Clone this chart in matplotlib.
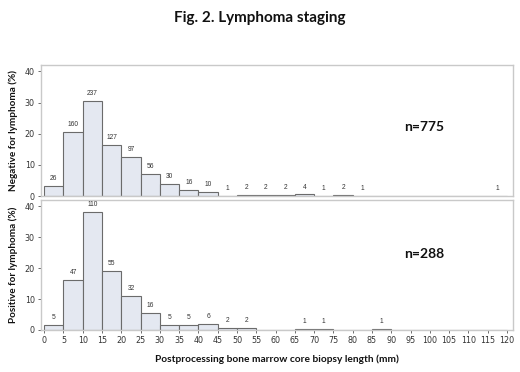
import numpy as np
import matplotlib.pyplot as plt

# bin edges (mm), 5 mm wide from 0 to 120
bin_edges = np.arange(0, 125, 5)

# counts per bin, negative for lymphoma (n=775)
neg_counts = [26, 160, 237, 127, 97, 56, 30, 16, 10, 1, 2, 2, 2, 4, 1, 2, 1,
              0, 0, 0, 0, 0, 0, 1]
# counts per bin, positive for lymphoma (n=288)
pos_counts = [5, 47, 110, 55, 32, 16, 5, 5, 6, 2, 2, 0, 0, 1, 1, 0, 0,
              1, 0, 0, 0, 0, 0, 0]

panel_labels = ['Negative for lymphoma (%)', 'Positive for lymphoma (%)']
x_ticks = list(range(0, 125, 5))
y_ticks = [0, 10, 20, 30, 40]

BAR_FILL = '#e4e8f1'
BAR_EDGE = '#6b6b6b'
FRAME = '#c9c9c9'
TEXT = '#333333'
BOLD_FONT = ['Lato', 'DejaVu Sans']

fig = plt.figure(figsize=(5.2, 3.72), dpi=100)
fig.text(0.5, 0.952, 'Fig. 2. Lymphoma staging', ha='center', va='center',
         fontsize=11, fontweight='bold', family=BOLD_FONT, color='#111111')

axes = [fig.add_axes([0.079, 0.473, 0.907, 0.352]),
        fig.add_axes([0.079, 0.113, 0.907, 0.349])]

n_y = [22, 24.5]
for ax, counts, ylab, ny in zip(axes, [neg_counts, pos_counts], panel_labels, n_y):
    counts = np.array(counts)
    total = counts.sum()
    pct = counts / total * 100
    lefts = bin_edges[:-1]
    ax.bar(lefts, pct, width=5, align='edge', color=BAR_FILL,
           edgecolor=BAR_EDGE, linewidth=0.8)
    for x, c, p in zip(lefts, counts, pct):
        if c > 0:
            ax.text(x + 2.5, p + 1.2, str(c), ha='center', va='bottom',
                    fontsize=4.8, color=TEXT, family='Liberation Sans')
    ax.text(98.5, ny, f'n={total}', ha='center', va='center',
            fontsize=10, fontweight='bold', family=BOLD_FONT, color='#111111')
    ax.set_xlim(-0.8, 121.5)
    ax.set_ylim(0, 42)
    ax.set_yticks(y_ticks)
    ax.set_xticks(x_ticks)
    ax.set_ylabel(ylab, fontsize=7.2, fontweight='bold', family=BOLD_FONT,
                  color='#111111', labelpad=5)
    for s in ax.spines.values():
        s.set_color(FRAME)
        s.set_linewidth(1.0)
    ax.tick_params(axis='both', labelsize=5.8, colors='#555555', length=2.5,
                   width=0.6, labelcolor=TEXT, pad=2)

axes[0].tick_params(axis='x', bottom=False, labelbottom=False)
axes[1].set_xlabel('Postprocessing bone marrow core biopsy length (mm)',
                   fontsize=7.3, fontweight='bold', family=BOLD_FONT,
                   color='#111111', labelpad=7)

fig.savefig('out.png', dpi=100)
